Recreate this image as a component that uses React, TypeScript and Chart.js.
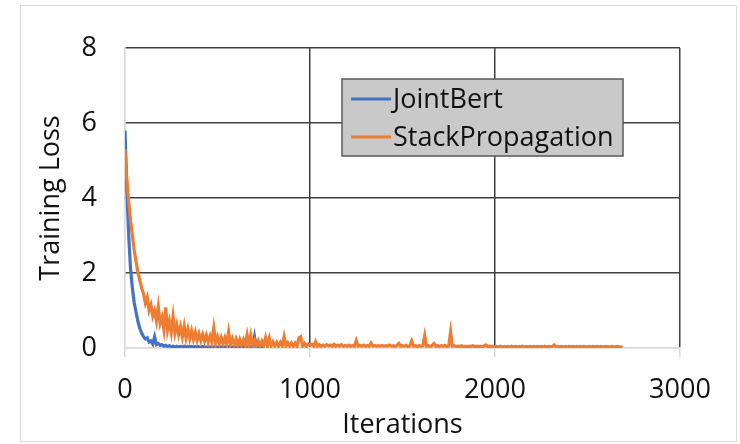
import React, { useEffect, useRef } from "react";
import { Chart, registerables } from "chart.js";

Chart.register(...registerables);

const FONT = "'Open Sans', 'DejaVu Sans', sans-serif";
const ITER_STEP = 10;
const X_MIN = 0;
const X_MAX = 3000;
const X_STEP = 1000;
const Y_MIN = 0;
const Y_MAX = 8;
const Y_STEP = 2;
const X_TITLE = "Iterations";
const Y_TITLE = "Training Loss";
const SERIES_NAMES = ["JointBert", "StackPropagation"];
const SERIES_COLORS = ["#4472C4", "#ED7D31"];

// JointBert training loss, sampled every 10 iterations (0..750)
const jointBertLoss = [
  5.8, 4.2, 3.0, 2.1, 1.6, 1.2, 0.95, 0.7, 0.52, 0.4,
  0.3, 0.24, 0.27, 0.16, 0.19, 0.11, 0.3, 0.09, 0.12, 0.07,
  0.09, 0.05, 0.07, 0.04, 0.06, 0.04, 0.05, 0.03, 0.05, 0.03,
  0.04, 0.03, 0.05, 0.03, 0.04, 0.03, 0.04, 0.02, 0.04, 0.03,
  0.03, 0.02, 0.04, 0.02, 0.03, 0.02, 0.03, 0.02, 0.03, 0.02,
  0.03, 0.02, 0.03, 0.02, 0.03, 0.02, 0.03, 0.02, 0.03, 0.02,
  0.03, 0.02, 0.03, 0.02, 0.03, 0.02, 0.03, 0.02, 0.03, 0.02,
  0.3, 0.02, 0.03, 0.02, 0.03, 0.02,
];

// StackPropagation training loss, sampled every 10 iterations (0..2690)
const stackPropLoss = [
  5.3, 4.5, 3.9, 3.4, 3.0, 2.6, 2.3, 2.0, 1.8, 1.6,
  1.45, 1.2, 1.35, 1.0, 1.15, 0.85, 1.0, 0.72, 1.1, 0.66,
  0.82, 0.5, 1.08, 0.48, 0.72, 0.42, 0.84, 0.4, 0.62, 0.36,
  0.57, 0.3, 0.58, 0.27, 0.5, 0.25, 0.46, 0.23, 0.42, 0.21,
  0.38, 0.2, 0.36, 0.18, 0.34, 0.16, 0.32, 0.15, 0.53, 0.14,
  0.3, 0.12, 0.28, 0.11, 0.27, 0.1, 0.43, 0.1, 0.25, 0.09,
  0.24, 0.08, 0.23, 0.08, 0.22, 0.07, 0.35, 0.07, 0.34, 0.07,
  0.2, 0.06, 0.19, 0.06, 0.18, 0.06, 0.27, 0.05, 0.26, 0.05,
  0.16, 0.05, 0.15, 0.05, 0.15, 0.05, 0.3, 0.05, 0.14, 0.05,
  0.13, 0.05, 0.13, 0.04, 0.27, 0.3, 0.05, 0.12, 0.04, 0.11,
  0.08, 0.1, 0.05, 0.17, 0.05, 0.09, 0.05, 0.08, 0.05, 0.09,
  0.06, 0.08, 0.05, 0.1, 0.05, 0.08, 0.05, 0.09, 0.05, 0.07,
  0.05, 0.08, 0.05, 0.07, 0.05, 0.2, 0.05, 0.07, 0.05, 0.08,
  0.05, 0.07, 0.05, 0.13, 0.05, 0.07, 0.05, 0.06, 0.05, 0.07,
  0.05, 0.06, 0.05, 0.08, 0.05, 0.06, 0.04, 0.07, 0.12, 0.05,
  0.06, 0.05, 0.07, 0.04, 0.06, 0.19, 0.05, 0.06, 0.04, 0.06,
  0.05, 0.06, 0.33, 0.05, 0.06, 0.04, 0.07, 0.12, 0.05, 0.06,
  0.04, 0.06, 0.05, 0.07, 0.04, 0.06, 0.43, 0.05, 0.06, 0.04,
  0.05, 0.04, 0.06, 0.04, 0.05, 0.04, 0.05, 0.04, 0.06, 0.04,
  0.05, 0.04, 0.05, 0.04, 0.05, 0.08, 0.04, 0.05, 0.04, 0.05,
  0.03, 0.04, 0.03, 0.05, 0.03, 0.04, 0.03, 0.04, 0.03, 0.05,
  0.03, 0.04, 0.03, 0.04, 0.03, 0.05, 0.03, 0.04, 0.03, 0.04,
  0.03, 0.04, 0.03, 0.04, 0.03, 0.04, 0.03, 0.05, 0.03, 0.04,
  0.03, 0.04, 0.08, 0.03, 0.04, 0.03, 0.04, 0.03, 0.04, 0.03,
  0.04, 0.03, 0.04, 0.03, 0.04, 0.03, 0.04, 0.03, 0.04, 0.03,
  0.03, 0.04, 0.03, 0.04, 0.03, 0.04, 0.03, 0.04, 0.03, 0.03,
  0.04, 0.03, 0.03, 0.04, 0.03, 0.03, 0.04, 0.03, 0.03, 0.02,
];

const toPoints = (arr: number[]) => arr.map((y, i) => ({ x: i * ITER_STEP, y }));

const GRID_DARK = "#404040";
const AXIS_LIGHT = "#d9d9d9";
const TEXT = "#111111";

const framePlugin = {
  id: "frame",
  beforeDraw(chart: any) {
    const { ctx, width, height } = chart;
    ctx.save();
    ctx.fillStyle = "#ffffff";
    ctx.fillRect(0, 0, width, height);
    ctx.strokeStyle = AXIS_LIGHT;
    ctx.lineWidth = 1;
    ctx.strokeRect(20.5, 5.5, 716, 436);
    ctx.restore();
  },
};

const boxLegendPlugin = {
  id: "boxLegend",
  afterDraw(chart: any) {
    const { ctx } = chart;
    const x0 = 342;
    const y0 = 79;
    const w = 281;
    const h = 77;
    ctx.save();
    ctx.fillStyle = "#c9c9c9";
    ctx.fillRect(x0, y0, w, h);
    ctx.strokeStyle = "#595959";
    ctx.lineWidth = 1.5;
    ctx.strokeRect(x0, y0, w, h);
    ctx.font = `27px ${FONT}`;
    ctx.textBaseline = "middle";
    ctx.textAlign = "left";
    chart.data.datasets.forEach((ds: any, i: number) => {
      const cy = y0 + 20 + i * 38;
      ctx.strokeStyle = ds.borderColor;
      ctx.lineWidth = 3;
      ctx.beginPath();
      ctx.moveTo(x0 + 9, cy);
      ctx.lineTo(x0 + 49, cy);
      ctx.stroke();
      ctx.fillStyle = TEXT;
      ctx.fillText(ds.label, x0 + 51, cy + 1);
    });
    ctx.restore();
  },
};

export default function App() {
  const ref = useRef<HTMLCanvasElement | null>(null);

  useEffect(() => {
    if (!ref.current) return;
    const chart = new Chart(ref.current, {
      type: "line",
      data: {
        datasets: [
          {
            label: SERIES_NAMES[0],
            data: toPoints(jointBertLoss),
            borderColor: SERIES_COLORS[0],
            backgroundColor: SERIES_COLORS[0],
            borderWidth: 3.2,
            pointRadius: 0,
            tension: 0,
            order: 2,
          },
          {
            label: SERIES_NAMES[1],
            data: toPoints(stackPropLoss),
            borderColor: SERIES_COLORS[1],
            backgroundColor: SERIES_COLORS[1],
            borderWidth: 3.2,
            pointRadius: 0,
            tension: 0,
            order: 1,
          },
        ],
      },
      options: {
        responsive: false,
        animation: false,
        layout: { padding: { left: 30, right: 60, top: 48, bottom: 0 } },
        plugins: {
          legend: { display: false },
          tooltip: { enabled: false },
        },
        scales: {
          x: {
            type: "linear",
            min: X_MIN,
            max: X_MAX,
            ticks: {
              stepSize: X_STEP,
              maxRotation: 0,
              font: { family: FONT, size: 27 },
              color: TEXT,
              padding: 17,
              callback: (v: any) => String(v),
            },
            grid: {
              color: (c: any) => (c.tick && c.tick.value === X_MIN ? AXIS_LIGHT : GRID_DARK),
              lineWidth: 1.5,
              tickColor: AXIS_LIGHT,
              tickLength: 9,
            },
            border: { color: AXIS_LIGHT, width: 1.5 },
            title: {
              display: true,
              text: X_TITLE,
              font: { family: FONT, size: 27 },
              color: TEXT,
              padding: { top: 0, bottom: 2 },
            },
            afterFit: (s: any) => {
              s.height = 96;
            },
          },
          y: {
            type: "linear",
            min: Y_MIN,
            max: Y_MAX,
            ticks: {
              stepSize: Y_STEP,
              font: { family: FONT, size: 27 },
              color: TEXT,
              padding: 28,
            },
            grid: {
              color: (c: any) => (c.tick && c.tick.value === Y_MIN ? AXIS_LIGHT : GRID_DARK),
              lineWidth: 1.5,
              drawTicks: false,
            },
            border: { color: AXIS_LIGHT, width: 1.5 },
            title: {
              display: true,
              text: Y_TITLE,
              font: { family: FONT, size: 27 },
              color: TEXT,
              padding: { top: 5, bottom: 0 },
            },
            afterFit: (s: any) => {
              s.width = 95;
            },
          },
        },
      },
      plugins: [framePlugin, boxLegendPlugin],
    });
    return () => chart.destroy();
  }, []);

  return (
    <div style={{ position: "absolute", left: 0, top: 0, width: 740, height: 444 }}>
      <canvas ref={ref} width={740} height={444} style={{ display: "block" }} />
    </div>
  );
}
